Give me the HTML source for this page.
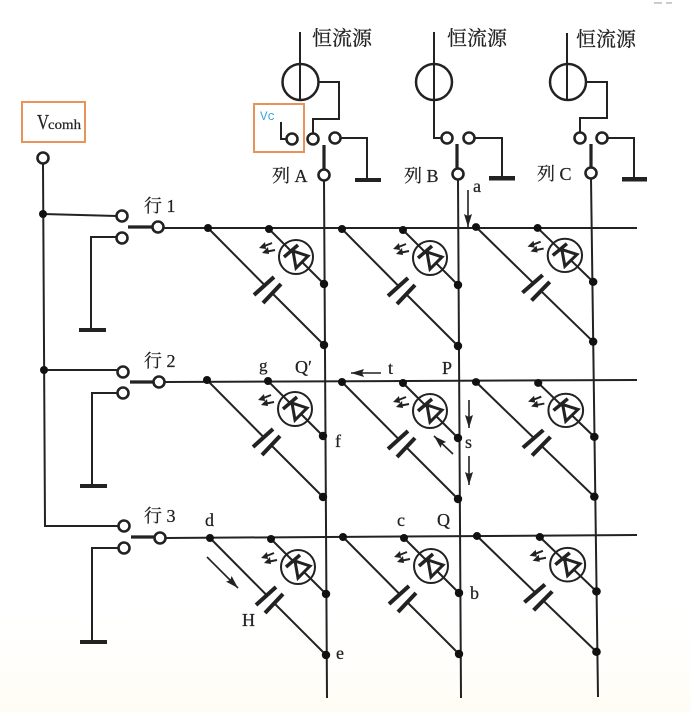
<!DOCTYPE html>
<html><head><meta charset="utf-8"><style>
html,body{margin:0;padding:0;background:#fff}
svg{display:block}
text{font-family:"Liberation Serif","Noto Serif CJK SC",serif;fill:#222;stroke:#222;stroke-width:.25}
</style></head><body>
<svg width="690" height="712" viewBox="0 0 690 712" xmlns="http://www.w3.org/2000/svg">
<defs>
<linearGradient id="bg" x1="0" y1="0" x2="0" y2="1"><stop offset="0" stop-color="#fffefb" stop-opacity="0"/><stop offset="1" stop-color="#fefcf3"/></linearGradient>
<marker id="ah" markerUnits="userSpaceOnUse" markerWidth="14" markerHeight="10" refX="13" refY="4" orient="auto"><path d="M0 0L13 4L0 8L2 4Z" fill="#222"/></marker>
<g id="cell" fill="none" stroke="#222" stroke-width="2" stroke-linecap="butt">
<path d="M0 0L57 57.5M64 65L116 117" />
<path d="M46 67L66 49M55 75L73 56" stroke-width="4"/>
<path d="M61 1L116 56" />
<circle cx="88" cy="29" r="17" fill="none" stroke-width="2"/>
<path d="M76 29L90 17" stroke-width="3.5"/>
<path d="M85 23L100 28L88 40Z" stroke-width="3" fill="#fff"/>
<path d="M64 15L54 19M67 22L57 24" stroke-width="2"/>
<path d="M51 20L57 14L58 21ZM54 25L60 19L61 26Z" fill="#222" stroke="none"/>
<circle cx="0" cy="0" r="4" fill="#111" stroke="none"/>
<circle cx="61" cy="1" r="4" fill="#111" stroke="none"/>
<circle cx="116" cy="56" r="4.2" fill="#111" stroke="none"/>
<circle cx="116" cy="117" r="4.2" fill="#111" stroke="none"/>
</g>
</defs>
<rect width="690" height="712" fill="#fff"/>
<rect y="610" width="690" height="102" fill="url(#bg)"/>
<path d="M654 3h8M666 3h6" stroke="#ccc" stroke-width="2"/>

<!-- row lines -->
<g fill="none" stroke="#222" stroke-width="2">
<path d="M163 228L637 228"/>
<path d="M165 382L637 380"/>
<path d="M166 538L637 535"/>
<!-- column lines -->
<path d="M324 180L327 698"/>
<path d="M458 180L461 698"/>
<path d="M591 178L598 697"/>
</g>

<!-- cells -->
<use href="#cell" transform="translate(208,228)"/>
<use href="#cell" transform="translate(342,229)"/>
<use href="#cell" transform="translate(476,227) scale(1.01,.98)"/>
<use href="#cell" transform="translate(207,380)"/>
<use href="#cell" transform="translate(342,382)"/>
<use href="#cell" transform="translate(476,382) scale(1.02,.98)"/>
<use href="#cell" transform="translate(210,538)"/>
<use href="#cell" transform="translate(343,537)"/>
<use href="#cell" transform="translate(477,536) scale(1.03,.99)"/>

<!-- top sources -->
<g fill="none" stroke="#222" stroke-width="2">
<path d="M300 32V100"/><circle cx="300.5" cy="82" r="18" stroke-width="2.5"/>
<path d="M319 82H339V119H313V133"/>
<path d="M341 138H367V180"/>
<path d="M281 122V139H287"/>
<path d="M434 32V138H441"/><circle cx="434" cy="82" r="18" stroke-width="2.5"/>
<path d="M475 138H502V178"/>
<path d="M567 33V100"/><circle cx="568" cy="82" r="18" stroke-width="2.5"/>
<path d="M587 82H607V118H580V133"/>
<path d="M608 138H634V179"/>
</g>
<g fill="none" stroke="#222" stroke-width="3.2">
<path d="M324 145V169M457 144V168M591 144V168"/>
<path d="M128 227H153M130 382H154M131 537H155"/>
</g>
<g fill="#222">
<rect x="355" y="178" width="26" height="4"/>
<rect x="489" y="176" width="26" height="4.5"/>
<rect x="622" y="177" width="25" height="4.5"/>
<rect x="79" y="328" width="27" height="4"/>
<rect x="80" y="484" width="27" height="4"/>
<rect x="80" y="640" width="27" height="4"/>
</g>

<!-- left wiring -->
<g fill="none" stroke="#222" stroke-width="2">
<path d="M43 164L45 526H118"/>
<path d="M43 214L117 216"/>
<path d="M44 370H117"/>
<path d="M116 237H91V330"/>
<path d="M118 393H92V486"/>
<path d="M118 548H92V642"/>
</g>
<circle cx="43" cy="214" r="4" fill="#111"/>
<circle cx="44" cy="370" r="4" fill="#111"/>

<!-- open terminals -->
<g fill="#fff" stroke="#222" stroke-width="2.6">
<circle cx="43" cy="158" r="5.5"/>
<circle cx="122" cy="216" r="5.5"/><circle cx="122" cy="238" r="5.5"/><circle cx="158" cy="227" r="5.5"/>
<circle cx="123" cy="372" r="5.5"/><circle cx="123" cy="393" r="5.5"/><circle cx="159" cy="382" r="5.5"/>
<circle cx="124" cy="526" r="5.5"/><circle cx="124" cy="548" r="5.5"/><circle cx="160" cy="538" r="5.5"/>
<circle cx="292" cy="139" r="5.5"/><circle cx="313" cy="139" r="5.5"/><circle cx="335" cy="138" r="5.5"/><circle cx="324" cy="175" r="5.5"/>
<circle cx="447" cy="138" r="5.5"/><circle cx="469" cy="138" r="5.5"/><circle cx="458" cy="174" r="5.5"/>
<circle cx="580" cy="138" r="5.5"/><circle cx="602" cy="138" r="5.5"/><circle cx="591" cy="173" r="5.5"/>
</g>

<!-- arrows -->
<g fill="none" stroke="#222" stroke-width="1.6">
<path d="M468 190V227" marker-end="url(#ah)"/>
<path d="M381 373H351" marker-end="url(#ah)"/>
<path d="M469 400V428" marker-end="url(#ah)"/>
<path d="M469 456V485" marker-end="url(#ah)"/>
<path d="M453 454L434 436" marker-end="url(#ah)"/>
<path d="M207 557L238 588" marker-end="url(#ah)"/>
</g>

<!-- orange boxes -->
<rect x="22" y="102" width="63" height="40" fill="none" stroke="#e8935a" stroke-width="2"/>
<rect x="254" y="104" width="50" height="48" fill="none" stroke="#e8935a" stroke-width="2"/>

<!-- labels -->
<text x="37" y="129" font-size="21" textLength="12" lengthAdjust="spacingAndGlyphs">V</text>
<text x="48" y="129" font-size="14" textLength="33" lengthAdjust="spacingAndGlyphs">comh</text>
<text x="260" y="120" font-size="13" style="fill:#3aa6dc;stroke:none;font-family:'Liberation Mono',monospace" textLength="15" lengthAdjust="spacingAndGlyphs">Vc</text>
<g font-size="20">
<text x="312" y="45">恒流源</text>
<text x="447" y="45">恒流源</text>
<text x="576" y="46">恒流源</text>
</g>
<g font-size="18">
<text x="272" y="182">列 A</text>
<text x="404" y="182">列 B</text>
<text x="537" y="180">列 C</text>
<text x="144" y="212">行 1</text>
<text x="144" y="367">行 2</text>
<text x="144" y="522">行 3</text>
<text x="259" y="371" font-size="17">g</text>
<text x="295" y="373">Q′</text>
<text x="388" y="374">t</text>
<text x="442" y="374">P</text>
<text x="335" y="447">f</text>
<text x="465" y="448">s</text>
<text x="397" y="526">c</text>
<text x="437" y="526">Q</text>
<text x="470" y="599">b</text>
<text x="205" y="526">d</text>
<text x="242" y="626">H</text>
<text x="336" y="659">e</text>
<text x="473" y="192">a</text>
</g>
</svg>
</body></html>
